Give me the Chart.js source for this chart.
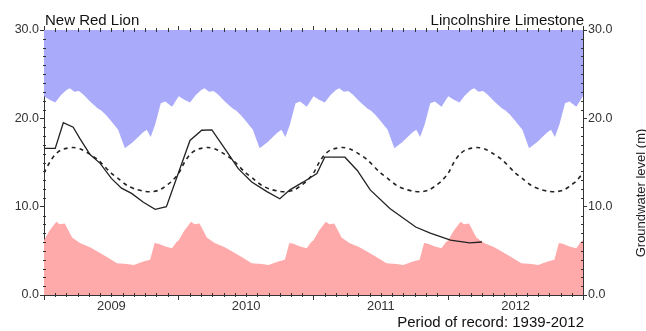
<!DOCTYPE html>
<html>
<head>
<meta charset="utf-8">
<script src="https://cdn.jsdelivr.net/npm/chart.js@4.4.1/dist/chart.umd.min.js"></script>
<style>
  html, body { margin: 0; padding: 0; background: #fff; }
  canvas { display: block; }
</style>
</head>
<body>
<canvas id="hydrograph" width="646" height="331"></canvas>
<script>
const FONT = '"Liberation Sans", Arial, sans-serif';

// x axis runs in months from Jan 2009 (0) to Jan 2013 (48)
const years = ['2009', '2010', '2011', '2012'];
const yTicks = [0, 10, 20, 30];

// long-term maximum by time of year (month offset within the year)
const maxOffsets = [0, 0.5, 1.0, 1.5, 2.0, 2.3, 2.7, 3.1, 3.5, 4.1, 4.8, 5.1, 5.5, 5.9, 6.6, 7.2, 7.9, 8.8, 9.15, 9.5, 9.9, 10.4, 10.8, 11.4];
const maxLevel   = [22.5, 22.1, 21.8, 22.6, 23.2, 23.4, 23.0, 23.1, 22.7, 21.9, 21.1, 20.9, 20.4, 19.8, 18.7, 16.6, 17.3, 18.4, 18.7, 17.9, 19.3, 21.7, 21.9, 21.3];

// long-term minimum by time of year
const minOffsets = [0, 0.5, 1.1, 1.4, 1.85, 2.05, 2.5, 3.2, 4.1, 4.8, 5.6, 6.5, 7.4, 8.0, 8.85, 9.45, 9.85, 10.2, 10.8, 11.4, 11.8];
const minLevel   = [6.2, 7.3, 8.3, 8.0, 8.1, 7.6, 6.5, 5.9, 5.4, 4.9, 4.3, 3.6, 3.5, 3.4, 3.8, 4.0, 5.9, 5.8, 5.5, 5.3, 6.0];

// long-term average by time of year
const avgOffsets = [0, 0.5, 1.0, 1.5, 2.0, 2.6, 3.3, 4.0, 4.8, 5.9, 6.7, 7.4, 8.1, 8.9, 9.6, 10.3, 11.0, 11.4];
const avgLevel   = [13.8, 15.0, 15.9, 16.4, 16.6, 16.7, 16.5, 16.0, 15.3, 13.9, 13.1, 12.4, 12.0, 11.75, 11.7, 11.9, 12.5, 12.9];

// measured levels
const obsMonths = [0, 1.0, 1.72, 2.6, 3.2, 4.1, 5.0, 6.0, 6.9, 7.8, 8.85, 9.9, 10.9, 13.0, 14.05, 14.95, 16.3, 17.3, 18.5, 19.85, 21.0, 21.9, 23.1, 24.3, 25.0, 26.8, 27.9, 29.05, 30.8, 33.1, 34.4, 36.2, 37.9, 39.0];
const obsLevel  = [16.6, 16.6, 19.5, 19.0, 17.7, 15.9, 14.9, 13.2, 12.1, 11.5, 10.5, 9.7, 10.0, 17.5, 18.65, 18.7, 16.2, 14.3, 12.8, 11.7, 10.9, 11.9, 12.8, 13.75, 15.6, 15.6, 14.1, 11.9, 9.8, 7.7, 7.0, 6.2, 5.9, 6.0];

const siteName = 'New Red Lion';
const aquifer = 'Lincolnshire Limestone';
const recordText = 'Period of record: 1939-2012';
const axisTitle = 'Groundwater level (m)';

// the seasonal statistics repeat for every year shown
function eachYear(offsets, levels) {
  const pts = [];
  years.forEach((yr, i) => {
    offsets.forEach((o, j) => pts.push({ x: i * 12 + o, y: levels[j] }));
  });
  pts.push({ x: years.length * 12, y: levels[0] });
  return pts;
}

const observed = obsMonths.map((m, i) => ({ x: m, y: obsLevel[i] }));

const AXIS = '#333';

// small monthly / unit ticks and the free text around the plot
const decorations = {
  id: 'decorations',
  afterDraw(chart) {
    const { ctx, chartArea: a } = chart;
    const x = chart.scales.x, y = chart.scales.y;
    ctx.save();
    ctx.strokeStyle = AXIS;
    ctx.lineWidth = 1;
    ctx.beginPath();
    for (let m = 1; m < years.length * 12; m++) {
      if (m % 12 === 0) continue;
      const px = Math.round(x.getPixelForValue(m)) + 0.5;
      ctx.moveTo(px, a.bottom - 2); ctx.lineTo(px, a.bottom + 2);
      ctx.moveTo(px, a.top - 2); ctx.lineTo(px, a.top + 2);
    }
    for (let v = 1; v < 30; v++) {
      if (v % 10 === 0) continue;
      const py = Math.round(y.getPixelForValue(v)) + 0.5;
      ctx.moveTo(a.left - 1, py); ctx.lineTo(a.left + 2, py);
      ctx.moveTo(a.right - 2, py); ctx.lineTo(a.right + 1, py);
    }
    ctx.stroke();

    ctx.fillStyle = '#111';
    ctx.font = '15px ' + FONT;
    ctx.textBaseline = 'alphabetic';
    ctx.textAlign = 'left';
    ctx.fillText(siteName, a.left + 1, 25);
    ctx.textAlign = 'right';
    ctx.fillText(aquifer, a.right + 1, 25);
    ctx.fillText(recordText, a.right + 1, 327);

    ctx.translate(641, 193);
    ctx.rotate(-Math.PI / 2);
    ctx.font = '13px ' + FONT;
    ctx.textAlign = 'center';
    ctx.textBaseline = 'middle';
    ctx.fillStyle = '#222';
    ctx.fillText(axisTitle, 0, 0);
    ctx.restore();
  }
};

const yAxis = (position, width) => ({
  type: 'linear',
  position,
  min: 0,
  max: 30,
  afterBuildTicks: (s) => { s.ticks = yTicks.map(v => ({ value: v })); },
  afterFit: (s) => { s.width = width; },
  ticks: {
    callback: v => v.toFixed(1),
    font: { family: FONT, size: 12.5 },
    color: '#333',
    padding: 1
  },
  grid: { drawOnChartArea: false, tickLength: 4, tickColor: AXIS },
  border: { color: AXIS, width: 1 }
});

new Chart(document.getElementById('hydrograph'), {
  type: 'line',
  data: {
    datasets: [
      {
        label: 'Measured',
        data: observed,
        borderColor: '#222',
        borderWidth: 1.3,
        pointRadius: 0,
        tension: 0,
        fill: false,
        order: 0
      },
      {
        label: 'Average',
        data: eachYear(avgOffsets, avgLevel),
        borderColor: '#222',
        borderWidth: 1.6,
        borderDash: [4, 4],
        pointRadius: 0,
        tension: 0.3,
        fill: false,
        order: 1
      },
      {
        label: 'Maximum',
        data: eachYear(maxOffsets, maxLevel),
        borderColor: 'rgba(0,0,0,0)',
        borderWidth: 0,
        backgroundColor: 'rgb(170,170,250)',
        pointRadius: 0,
        tension: 0,
        fill: 'end',
        order: 2
      },
      {
        label: 'Minimum',
        data: eachYear(minOffsets, minLevel),
        borderColor: 'rgba(0,0,0,0)',
        borderWidth: 0,
        backgroundColor: 'rgb(255,170,170)',
        pointRadius: 0,
        tension: 0,
        fill: 'start',
        order: 3
      }
    ]
  },
  options: {
    responsive: false,
    animation: false,
    devicePixelRatio: 1,
    layout: { padding: 0 },
    plugins: { legend: { display: false }, tooltip: { enabled: false } },
    scales: {
      x: {
        type: 'linear',
        position: 'bottom',
        min: 0,
        max: years.length * 12,
        afterFit: (s) => { s.height = 36; },
        ticks: {
          stepSize: 6,
          autoSkip: false,
          maxRotation: 0,
          callback: v => (v % 12 === 6 ? years[(v - 6) / 12] : ''),
          font: { family: FONT, size: 13, lineHeight: 1 },
          color: '#333',
          padding: 0
        },
        grid: {
          drawOnChartArea: false,
          tickLength: 5,
          tickColor: c => (c.tick && c.tick.value % 12 === 0 ? AXIS : 'rgba(0,0,0,0)')
        },
        border: { color: AXIS, width: 1 }
      },
      x2: {
        type: 'linear',
        position: 'top',
        min: 0,
        max: years.length * 12,
        afterFit: (s) => { s.height = 30; },
        ticks: { stepSize: 12, display: false },
        grid: { drawOnChartArea: false, tickLength: 4, tickColor: AXIS },
        border: { color: AXIS, width: 1 }
      },
      y: yAxis('left', 44),
      y2: yAxis('right', 63)
    }
  },
  plugins: [decorations]
});
</script>
</body>
</html>
